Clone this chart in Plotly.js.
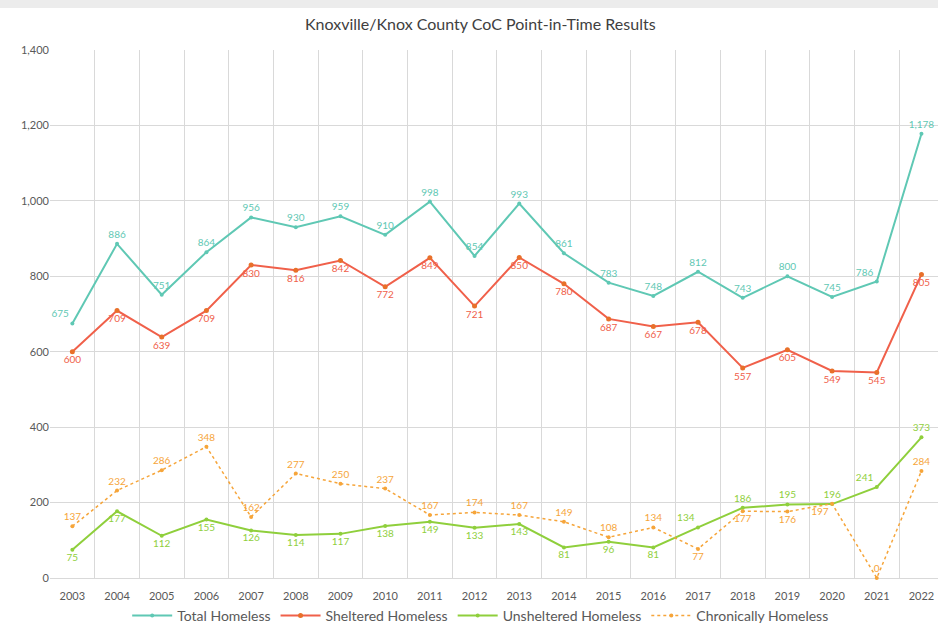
<!DOCTYPE html>
<html>
<head>
<meta charset="utf-8">
<script src="https://cdn.plot.ly/plotly-3.0.1.min.js"></script>
<style>html,body{margin:0;padding:0;background:#fff;}#chart{width:938px;height:632px;}</style>
</head>
<body>
<div id="chart"></div>
<script>
const years = ["2003","2004","2005","2006","2007","2008","2009","2010","2011","2012","2013","2014","2015","2016","2017","2018","2019","2020","2021","2022"];
const totalHomeless = [675,886,751,864,956,930,959,910,998,854,993,861,783,748,812,743,800,745,786,1178];
const shelteredHomeless = [600,709,639,709,830,816,842,772,849,721,850,780,687,667,678,557,605,549,545,805];
const unshelteredHomeless = [75,177,112,155,126,114,117,138,149,133,143,81,96,81,134,186,195,196,241,373];
const chronicallyHomeless = [137,232,286,348,162,277,250,237,167,174,167,149,108,134,77,177,176,197,0,284];
const yTickVals = [0,200,400,600,800,1000,1200,1400];

const fmt = v => v.toLocaleString('en-US');
const labelFont = (c) => ({family: "Lato, 'Open Sans', sans-serif", size: 10, color: c});

const cTotal = '#5fc8b4', cShel = '#f0604a', cUns = '#8fcf3c', cChr = '#f6a53a';

const tp = (def, overrides) => years.map((_, i) => overrides[i] || def);

const traces = [
  {x: years, y: totalHomeless, name: 'Total Homeless', mode: 'lines+markers+text',
   text: totalHomeless.map(fmt), textposition: tp('top center', {0: 'top left', 18: 'top left'}), textfont: labelFont(cTotal),
   line: {color: cTotal, width: 2}, marker: {color: cTotal, size: 4}, cliponaxis: false},
  {x: years, y: shelteredHomeless, name: 'Sheltered Homeless', mode: 'lines+markers+text',
   text: shelteredHomeless.map(fmt), textposition: 'bottom center', textfont: labelFont(cShel),
   line: {color: cShel, width: 2}, marker: {color: '#e8702a', size: 5}, cliponaxis: false},
  {x: years, y: unshelteredHomeless, name: 'Unsheltered Homeless', mode: 'lines+markers+text',
   text: unshelteredHomeless.map(fmt),
   textposition: tp('bottom center', {14: 'top left', 15: 'top center', 16: 'top center', 17: 'top center', 18: 'top left', 19: 'top center'}),
   textfont: labelFont(cUns),
   line: {color: cUns, width: 2}, marker: {color: cUns, size: 4}, cliponaxis: false},
  {x: years, y: chronicallyHomeless, name: 'Chronically Homeless', mode: 'lines+markers+text',
   text: chronicallyHomeless.map(fmt),
   textposition: tp('top center', {14: 'bottom center', 15: 'bottom center', 16: 'bottom center', 17: 'bottom left'}),
   textfont: labelFont(cChr),
   line: {color: cChr, width: 1.5, dash: 'dot'}, marker: {color: cChr, size: 4}, cliponaxis: false}
];

const layout = {
  width: 938, height: 632,
  margin: {l: 50, r: 0, t: 50, b: 54},
  paper_bgcolor: '#ffffff', plot_bgcolor: '#ffffff',
  font: {family: "Lato, 'Open Sans', sans-serif", color: '#595959'},
  title: {text: 'Knoxville/Knox County CoC Point-in-Time Results', x: 0.512, xanchor: 'center', y: 0.962, yanchor: 'middle',
          font: {size: 16, color: '#404040', family: "Lato, 'Open Sans', sans-serif"}},
  xaxis: {type: 'category', range: [-0.5, 19.37], tickson: 'boundaries', ticklen: 0,
          showgrid: true, gridcolor: '#d9d9d9', gridwidth: 1, showline: false, zeroline: false,
          ticklabelstandoff: 10,
          tickfont: {size: 11, color: '#595959'}, fixedrange: true},
  yaxis: {range: [0, 1400], tickvals: yTickVals, ticktext: yTickVals.map(fmt), showgrid: true,
          gridcolor: '#d9d9d9', gridwidth: 1, zeroline: true, zerolinecolor: '#d9d9d9', zerolinewidth: 1,
          showline: false, tickfont: {size: 11, color: '#595959'}, ticks: '', ticklen: 0, automargin: false},
  showlegend: true,
  legend: {orientation: 'h', x: 0.485, xanchor: 'center', y: -0.072, yanchor: 'middle',
           font: {size: 14, color: '#595959'}, itemwidth: 40, tracegroupgap: 0},
  shapes: [
    {type: 'rect', xref: 'paper', yref: 'paper', x0: -0.06, x1: 1.0, y0: 1.0 + 42/528, y1: 1.2, fillcolor: '#ececec', line: {width: 0}, layer: 'below'}
  ]
};

Plotly.newPlot('chart', traces, layout, {displayModeBar: false, staticPlot: true});
</script>
</body>
</html>
